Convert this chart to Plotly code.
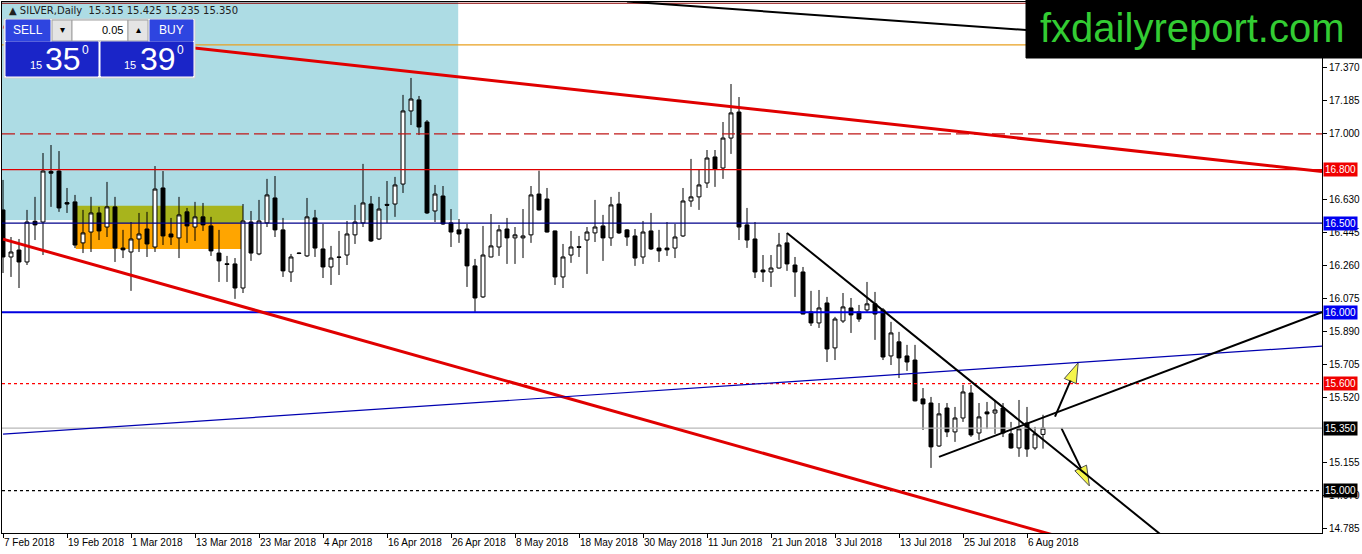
import plotly.graph_objects as go

# daily bars, SILVER, 7 Feb 2018 .. 8 Aug 2018 (bar index = trading day)
opens = [16.574, 16.310, 16.349, 16.282, 16.510, 16.506, 16.790, 16.792, 16.615, 16.619,
         16.389, 16.450, 16.557, 16.478, 16.591, 16.360, 16.338, 16.411, 16.467, 16.366,
         16.697, 16.439, 16.417, 16.563, 16.478, 16.535, 16.484, 16.332, 16.272, 16.271,
         16.136, 16.506, 16.327, 16.501, 16.641, 16.462, 16.226, 16.332, 16.316, 16.529,
         16.355, 16.254, 16.310, 16.321, 16.434, 16.501, 16.607, 16.411, 16.605, 16.607,
         16.719, 17.129, 17.191, 17.067, 16.568, 16.652, 16.501, 16.462, 16.467, 16.260,
         16.086, 16.310, 16.366, 16.467, 16.417, 16.417, 16.434, 16.663, 16.635, 16.456,
         16.198, 16.321, 16.368, 16.405, 16.445, 16.484, 16.417, 16.607, 16.462, 16.428,
         16.310, 16.456, 16.360, 16.360, 16.360, 16.428, 16.624, 16.647, 16.725, 16.871,
         16.809, 16.977, 17.123, 16.490, 16.411, 16.237, 16.226, 16.248, 16.389, 16.265,
         16.226, 16.002, 15.940, 16.052, 15.800, 15.951, 16.024, 16.002, 16.013, 16.047,
         16.013, 15.755, 15.834, 15.755, 15.732, 15.514, 15.491, 15.250, 15.463, 15.329,
         15.407, 15.547, 15.323, 15.441, 15.435, 15.463, 15.318, 15.239, 15.379, 15.239,
         15.315]
highs = [16.742, 16.422, 16.411, 16.574, 16.647, 16.893, 16.938, 16.904, 16.697, 16.658,
         16.574, 16.647, 16.591, 16.731, 16.647, 16.462, 16.506, 16.557, 16.563, 16.820,
         16.792, 16.529, 16.647, 16.585, 16.619, 16.613, 16.535, 16.462, 16.316, 16.304,
         16.607, 16.568, 16.630, 16.748, 16.764, 16.529, 16.327, 16.336, 16.641, 16.574,
         16.495, 16.372, 16.456, 16.512, 16.602, 16.832, 16.652, 16.647, 16.736, 16.759,
         17.219, 17.314, 17.213, 17.078, 16.714, 16.708, 16.579, 16.523, 16.495, 16.299,
         16.484, 16.551, 16.490, 16.529, 16.478, 16.579, 16.708, 16.794, 16.697, 16.458,
         16.383, 16.456, 16.428, 16.478, 16.630, 16.546, 16.647, 16.675, 16.467, 16.467,
         16.512, 16.557, 16.462, 16.506, 16.495, 16.697, 16.860, 16.798, 16.910, 16.910,
         17.067, 17.280, 17.207, 16.585, 16.506, 16.321, 16.321, 16.445, 16.445, 16.310,
         16.254, 16.120, 16.125, 16.086, 15.974, 16.108, 16.080, 16.041, 16.170, 16.114,
         16.024, 15.946, 15.890, 15.817, 15.817, 15.575, 15.525, 15.491, 15.491, 15.469,
         15.592, 15.592, 15.491, 15.497, 15.508, 15.491, 15.385, 15.508, 15.469, 15.357,
         15.425]
lows = [16.220, 16.198, 16.136, 16.265, 16.405, 16.321, 16.591, 16.563, 16.557, 16.360,
        16.332, 16.338, 16.405, 16.422, 16.282, 16.304, 16.120, 16.338, 16.310, 16.338,
        16.377, 16.377, 16.304, 16.389, 16.400, 16.456, 16.316, 16.170, 16.170, 16.075,
        16.108, 16.288, 16.320, 16.478, 16.422, 16.198, 16.170, 16.326, 16.310, 16.310,
        16.192, 16.153, 16.209, 16.265, 16.383, 16.478, 16.394, 16.405, 16.501, 16.535,
        16.669, 17.050, 16.994, 16.551, 16.506, 16.490, 16.366, 16.389, 16.142, 16.002,
        16.080, 16.308, 16.316, 16.271, 16.271, 16.304, 16.389, 16.570, 16.447, 16.153,
        16.136, 16.277, 16.310, 16.215, 16.394, 16.288, 16.372, 16.439, 16.372, 16.260,
        16.271, 16.349, 16.282, 16.316, 16.304, 16.422, 16.591, 16.574, 16.697, 16.703,
        16.748, 16.888, 16.405, 16.361, 16.192, 16.170, 16.142, 16.245, 16.232, 16.086,
        15.988, 15.923, 15.912, 15.721, 15.732, 15.940, 15.884, 15.946, 15.996, 15.845,
        15.732, 15.704, 15.631, 15.671, 15.500, 15.340, 15.127, 15.245, 15.300, 15.273,
        15.385, 15.301, 15.284, 15.345, 15.318, 15.300, 15.235, 15.189, 15.189, 15.228,
        15.235]
closes = [16.310, 16.338, 16.282, 16.506, 16.490, 16.792, 16.780, 16.585, 16.607, 16.377,
          16.445, 16.557, 16.456, 16.591, 16.360, 16.350, 16.411, 16.439, 16.383, 16.691,
          16.428, 16.422, 16.546, 16.484, 16.535, 16.490, 16.344, 16.288, 16.268, 16.136,
          16.512, 16.332, 16.512, 16.658, 16.462, 16.232, 16.310, 16.330, 16.535, 16.360,
          16.254, 16.304, 16.308, 16.439, 16.506, 16.613, 16.400, 16.579, 16.600, 16.714,
          17.129, 17.196, 17.039, 16.557, 16.663, 16.495, 16.450, 16.439, 16.260, 16.080,
          16.321, 16.372, 16.462, 16.417, 16.434, 16.428, 16.658, 16.574, 16.450, 16.198,
          16.310, 16.366, 16.364, 16.450, 16.478, 16.417, 16.602, 16.445, 16.422, 16.304,
          16.450, 16.355, 16.344, 16.350, 16.422, 16.624, 16.647, 16.714, 16.865, 16.804,
          16.977, 17.118, 16.478, 16.405, 16.226, 16.226, 16.248, 16.377, 16.271, 16.226,
          15.990, 15.940, 16.024, 15.794, 15.962, 16.030, 15.985, 15.962, 16.047, 15.990,
          15.749, 15.884, 15.744, 15.721, 15.503, 15.486, 15.245, 15.430, 15.329, 15.407,
          15.553, 15.312, 15.413, 15.430, 15.452, 15.323, 15.239, 15.346, 15.233, 15.318,
          15.350]
bars = list(range(len(closes)))

date_ticks = [0, 8, 16, 24, 32, 40, 48, 56, 64, 72, 80, 88, 96, 104, 112, 120, 128]
date_labels = ["7 Feb 2018", "19 Feb 2018", "1 Mar 2018", "13 Mar 2018", "23 Mar 2018",
               "4 Apr 2018", "16 Apr 2018", "26 Apr 2018", "8 May 2018", "18 May 2018",
               "30 May 2018", "11 Jun 2018", "21 Jun 2018", "3 Jul 2018", "13 Jul 2018",
               "25 Jul 2018", "6 Aug 2018"]
price_ticks = [14.785, 14.970, 15.155, 15.520, 15.705, 15.890, 16.075, 16.260,
               16.445, 16.630, 17.000, 17.185, 17.370]

# horizontal levels: price, colour, width, dash, label box colour (None = no box)
levels = [
    (17.733, "#8B0000", 1.2, "solid", None),
    (17.500, "#E8A020", 1.2, "solid", None),
    (17.000, "#C01818", 1.3, "13px,5px", None),
    (16.800, "#E00000", 1.3, "solid", "#F00000"),
    (16.500, "#00008B", 1.3, "solid", "#0000F0"),
    (16.000, "#0000E0", 2, "solid", "#0000F0"),
    (15.600, "#FF0000", 1.4, "3px,3px", "#F00000"),
    (15.350, "#B8B8B8", 1.2, "solid", "#000000"),
    (15.000, "#000000", 1.3, "3px,3px", "#000000"),
]

# trend lines: (bar0, price0, bar1, price1, colour, width)
trends = [
    (0, 17.600, 164.875, 16.790, "#E00000", 3),
    (0, 16.410, 135, 14.704, "#E00000", 3),
    (0, 15.316, 164.875, 15.810, "#0000B0", 1.2),
    (98, 16.445, 145, 14.743, "#000000", 2),
    (117, 15.189, 164.875, 16.000, "#000000", 2),
    (78, 17.743, 164.875, 17.464, "#000000", 2),
]

# arrows: (tail bar, tail price, tip bar, tip price)
arrows = [(131.5, 15.415, 134.4, 15.717), (132.3, 15.350, 135.8, 15.026)]

# zones: (bar0, bar1, price0, price1, colour)
zones = [
    (-1, 56.9, 16.518, 17.9, "#ADDCE4"),
    (9.1, 30.0, 16.500, 16.598, "#A8B41C"),
    (9.1, 30.0, 16.355, 16.500, "#FFA500"),
]

PL, PR, PT, PB = 2, 1322, 2, 533


def px(x):
    return (x - PL) / (PR - PL)


def py(y):
    return 1 - (y - PT) / (PB - PT)


fig = go.Figure()
fig.add_trace(go.Candlestick(
    x=bars, open=opens, high=highs, low=lows, close=closes,
    increasing=dict(line=dict(color="black", width=1), fillcolor="white"),
    decreasing=dict(line=dict(color="black", width=1), fillcolor="black"),
    whiskerwidth=0, showlegend=False, hoverinfo="skip"))

for x0, p0, x1, p1 in arrows:
    fig.add_trace(go.Scatter(
        x=[x0, x1], y=[p0, p1], mode="lines+markers",
        line=dict(color="black", width=2),
        marker=dict(symbol="arrow", size=[0, 21], angleref="previous",
                    color="#F2F200", line=dict(color="black", width=1)),
        showlegend=False, hoverinfo="skip"))

shapes = []
for x0, x1, p0, p1, col in zones:
    shapes.append(dict(type="rect", xref="x", yref="y", x0=x0, x1=x1, y0=p0, y1=p1,
                       fillcolor=col, line=dict(width=0), layer="below"))
for p, col, w, dash, box in levels:
    shapes.append(dict(type="line", xref="paper", yref="y", x0=0, x1=1, y0=p, y1=p,
                       line=dict(color=col, width=w, dash=dash)))
for x0, p0, x1, p1, col, w in trends:
    shapes.append(dict(type="line", xref="x", yref="y", x0=x0, x1=x1, y0=p0, y1=p1,
                       line=dict(color=col, width=w)))


def box(x0, y0, x1, y1, fill, edge=None):
    shapes.append(dict(type="rect", xref="paper", yref="paper",
                       x0=px(x0), x1=px(x1), y0=py(y1), y1=py(y0), fillcolor=fill,
                       line=dict(color=edge or fill, width=1)))


# one-click trading panel
box(4, 19, 195, 78, "white", "#D0D0D0")
box(6, 20, 50, 41, "#2E45E0")
box(52, 20, 72, 41, "#E4E4E4", "#A0A0A0")
box(72, 20, 128, 41, "white", "#A0A0A0")
box(128, 20, 148, 41, "#E4E4E4", "#A0A0A0")
box(150, 20, 193, 41, "#2E45E0")
box(6, 42, 98, 76, "#1A25C8")
box(101, 42, 193, 76, "#1A25C8")
# logo
box(1026, 0, 1362, 58, "black")

ann = []


def text(x, y, s, size, color, anchor="center", family="Liberation Sans"):
    ann.append(dict(xref="paper", yref="paper", x=px(x), y=py(y), text=s,
                    showarrow=False, xanchor=anchor, yanchor="middle",
                    font=dict(family=family, size=size, color=color)))


text(7, 10, "\u25b2 SILVER,Daily  15.315 15.425 15.235 15.350", 10, "#202020", "left",
     "DejaVu Sans")
text(28, 30, "SELL", 12, "white")
text(62, 30, "\u25be", 10, "black")
text(125, 30, "0.05", 11, "black", "right")
text(138, 30, "\u25b4", 10, "black")
text(171, 30, "BUY", 12, "white")
text(36, 65, "15", 11, "white")
text(63, 59, "35", 32, "white")
text(85, 50, "0", 12, "white")
text(130, 65, "15", 11, "white")
text(158, 59, "39", 32, "white")
text(180, 50, "0", 12, "white")
text(1192, 28, "fxdailyreport.com", 40, "#33CC33")

for p, col, w, dash, boxcol in levels:
    if boxcol:
        ann.append(dict(xref="paper", yref="y", x=1, y=p, xanchor="left", xshift=1,
                        text="%.3f" % p, showarrow=False, bgcolor=boxcol, borderpad=1,
                        font=dict(family="Liberation Sans", size=10, color="white")))

fig.update_layout(
    width=1362, height=554, autosize=False,
    margin=dict(l=PL, r=1362 - PR, t=PT, b=554 - PB),
    paper_bgcolor="white", plot_bgcolor="white",
    shapes=shapes, annotations=ann, showlegend=False,
    xaxis=dict(range=[-0.125, 164.875], tickvals=date_ticks, ticktext=date_labels,
               ticks="outside", ticklen=4, tickcolor="black", tickangle=0,
               ticklabelposition="outside right", showline=True, linecolor="black",
               mirror=True, showgrid=False, zeroline=False,
               rangeslider=dict(visible=False),
               tickfont=dict(family="Liberation Sans", size=10, color="black")),
    yaxis=dict(side="right", range=[14.762, 17.740], tickvals=price_ticks,
               ticktext=["%.3f" % v for v in price_ticks],
               ticks="outside", ticklen=4, tickcolor="black", showline=True,
               linecolor="black", mirror=True, showgrid=False, zeroline=False,
               tickfont=dict(family="Liberation Sans", size=10, color="black")),
)

fig.write_html("out.html", config={"displayModeBar": False},
               post_script="document.body.style.margin='0';")
